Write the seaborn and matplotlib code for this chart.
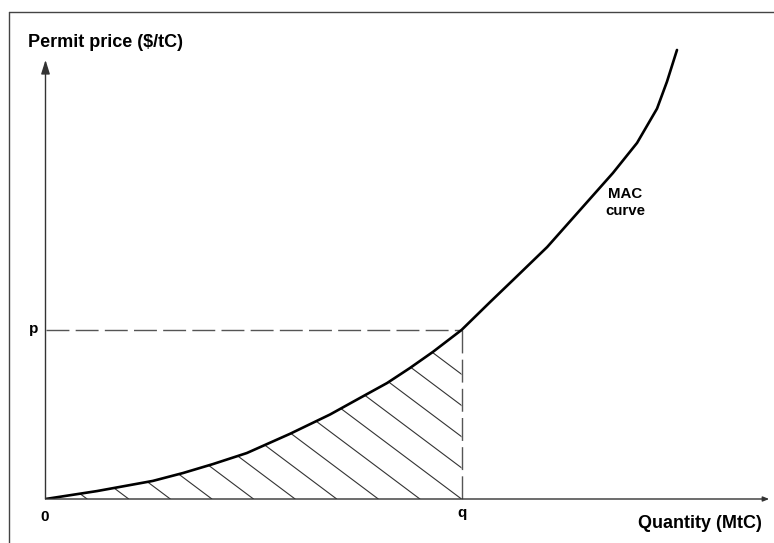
import numpy as np
import pandas as pd
import matplotlib
matplotlib.use("Agg")
import matplotlib.pyplot as plt
from matplotlib.patches import Polygon
from matplotlib.lines import Line2D
import seaborn as sns

# MAC curve (quantity vs permit price, arbitrary units)
quantity = [0, 1.24, 2.58, 3.31, 4.03, 4.84, 5.88, 6.84, 7.56, 8.21, 8.76, 9.31,
            10.0, 10.69, 11.24, 12.06, 12.85, 13.64, 14.22, 14.70, 14.94, 15.18]
price = [0, 0.47, 1.07, 1.54, 2.07, 2.72, 3.86, 5.0, 5.98, 6.86, 7.75, 8.70,
         10.0, 11.66, 12.96, 14.91, 17.10, 19.29, 21.07, 23.1, 24.7, 26.57]
q_value = 10.0
p_value = 10.0
y_axis_top = 25.98

x_label = "Quantity (MtC)"
y_label = "Permit price ($/tC)"
curve_label = "MAC\ncurve"

mac = pd.DataFrame({"quantity": quantity, "price": price})

sns.set_theme(style="white")
plt.rcParams["font.family"] = ["Liberation Sans", "DejaVu Sans"]
plt.rcParams["text.color"] = "black"

W, H = 774, 543
fig = plt.figure(figsize=(W / 100, H / 100), dpi=100)
fig.patch.set_facecolor("white")

# axes box in pixels: origin at (45.5, 499), right edge 770, top edge 11
x0, x1, y0, y1 = 45.5, 770, 499, 11
ax = fig.add_axes([x0 / W, (H - y0) / H, (x1 - x0) / W, (y0 - y1) / H])
xmax = (x1 - x0) / 41.6
ymax = (y0 - y1) / 16.9
ax.set_xlim(0, xmax)
ax.set_ylim(0, ymax)
ax.axis("off")

# outer frame (only left and top edges visible)
fig.add_artist(Line2D([9 / W, 9 / W], [0, 1 - 11.5 / H], transform=fig.transFigure,
                      color="#444444", lw=1.0))
fig.add_artist(Line2D([9 / W, 1], [1 - 11.5 / H, 1 - 11.5 / H], transform=fig.transFigure,
                      color="#444444", lw=1.0))

# axes with arrows
ax.annotate("", xy=(0, y_axis_top), xytext=(0, 0),
            arrowprops=dict(arrowstyle="-|>,head_length=0.7,head_width=0.22",
                            color="#333333", lw=1.0, shrinkA=0, shrinkB=0))
ax.annotate("", xy=(xmax - 0.02, 0), xytext=(0, 0),
            arrowprops=dict(arrowstyle="-|>,head_length=0.3,head_width=0.12",
                            color="#333333", lw=1.0, shrinkA=0, shrinkB=0),
            annotation_clip=False)

# hatched surplus area under the curve up to q
area = mac[mac["quantity"] <= q_value]
verts = list(zip(area["quantity"], area["price"])) + [(q_value, 0)]
clip_poly = Polygon(verts, closed=True, fill=False, edgecolor="none")
ax.add_patch(clip_poly)
slope = 1.846
spacing = 1.0
for k in range(1, 15):
    xe = k * spacing
    xs = np.array([xe - 12, xe])
    ln, = ax.plot(xs, slope * (xe - xs), color="#333333", lw=0.8)
    ln.set_clip_path(clip_poly)

# reference dashed lines
ax.plot([0, q_value], [p_value, p_value], color="#555555", lw=1.0,
        dashes=(16.5, 4.5), clip_on=False)
ax.plot([q_value, q_value], [p_value, 0], color="#555555", lw=1.0,
        dashes=(16.5, 4.5), clip_on=False)

# MAC curve
sns.lineplot(data=mac, x="quantity", y="price", sort=False, estimator=None,
             color="black", lw=1.9, ax=ax)
ax.set_xlim(0, xmax)
ax.set_ylim(0, ymax)

# texts
ax.text(-0.42, 27.0, y_label, fontsize=13, fontweight="bold", ha="left", va="center")
ax.text(17.23, -1.47, x_label, fontsize=13, fontweight="bold", ha="right", va="center")
ax.text(-0.03, -1.05, "0", fontsize=11, fontweight="bold", ha="center", va="center")
ax.text(q_value, -0.85, "q", fontsize=11, fontweight="bold", ha="center", va="center")
ax.text(-0.28, p_value + 0.05, "p", fontsize=11, fontweight="bold", ha="center", va="center")
ax.text(13.93, 17.55, curve_label, fontsize=10.8, fontweight="bold", ha="center",
        va="center", multialignment="center", linespacing=1.2)

fig.savefig("out.png", dpi=100)
